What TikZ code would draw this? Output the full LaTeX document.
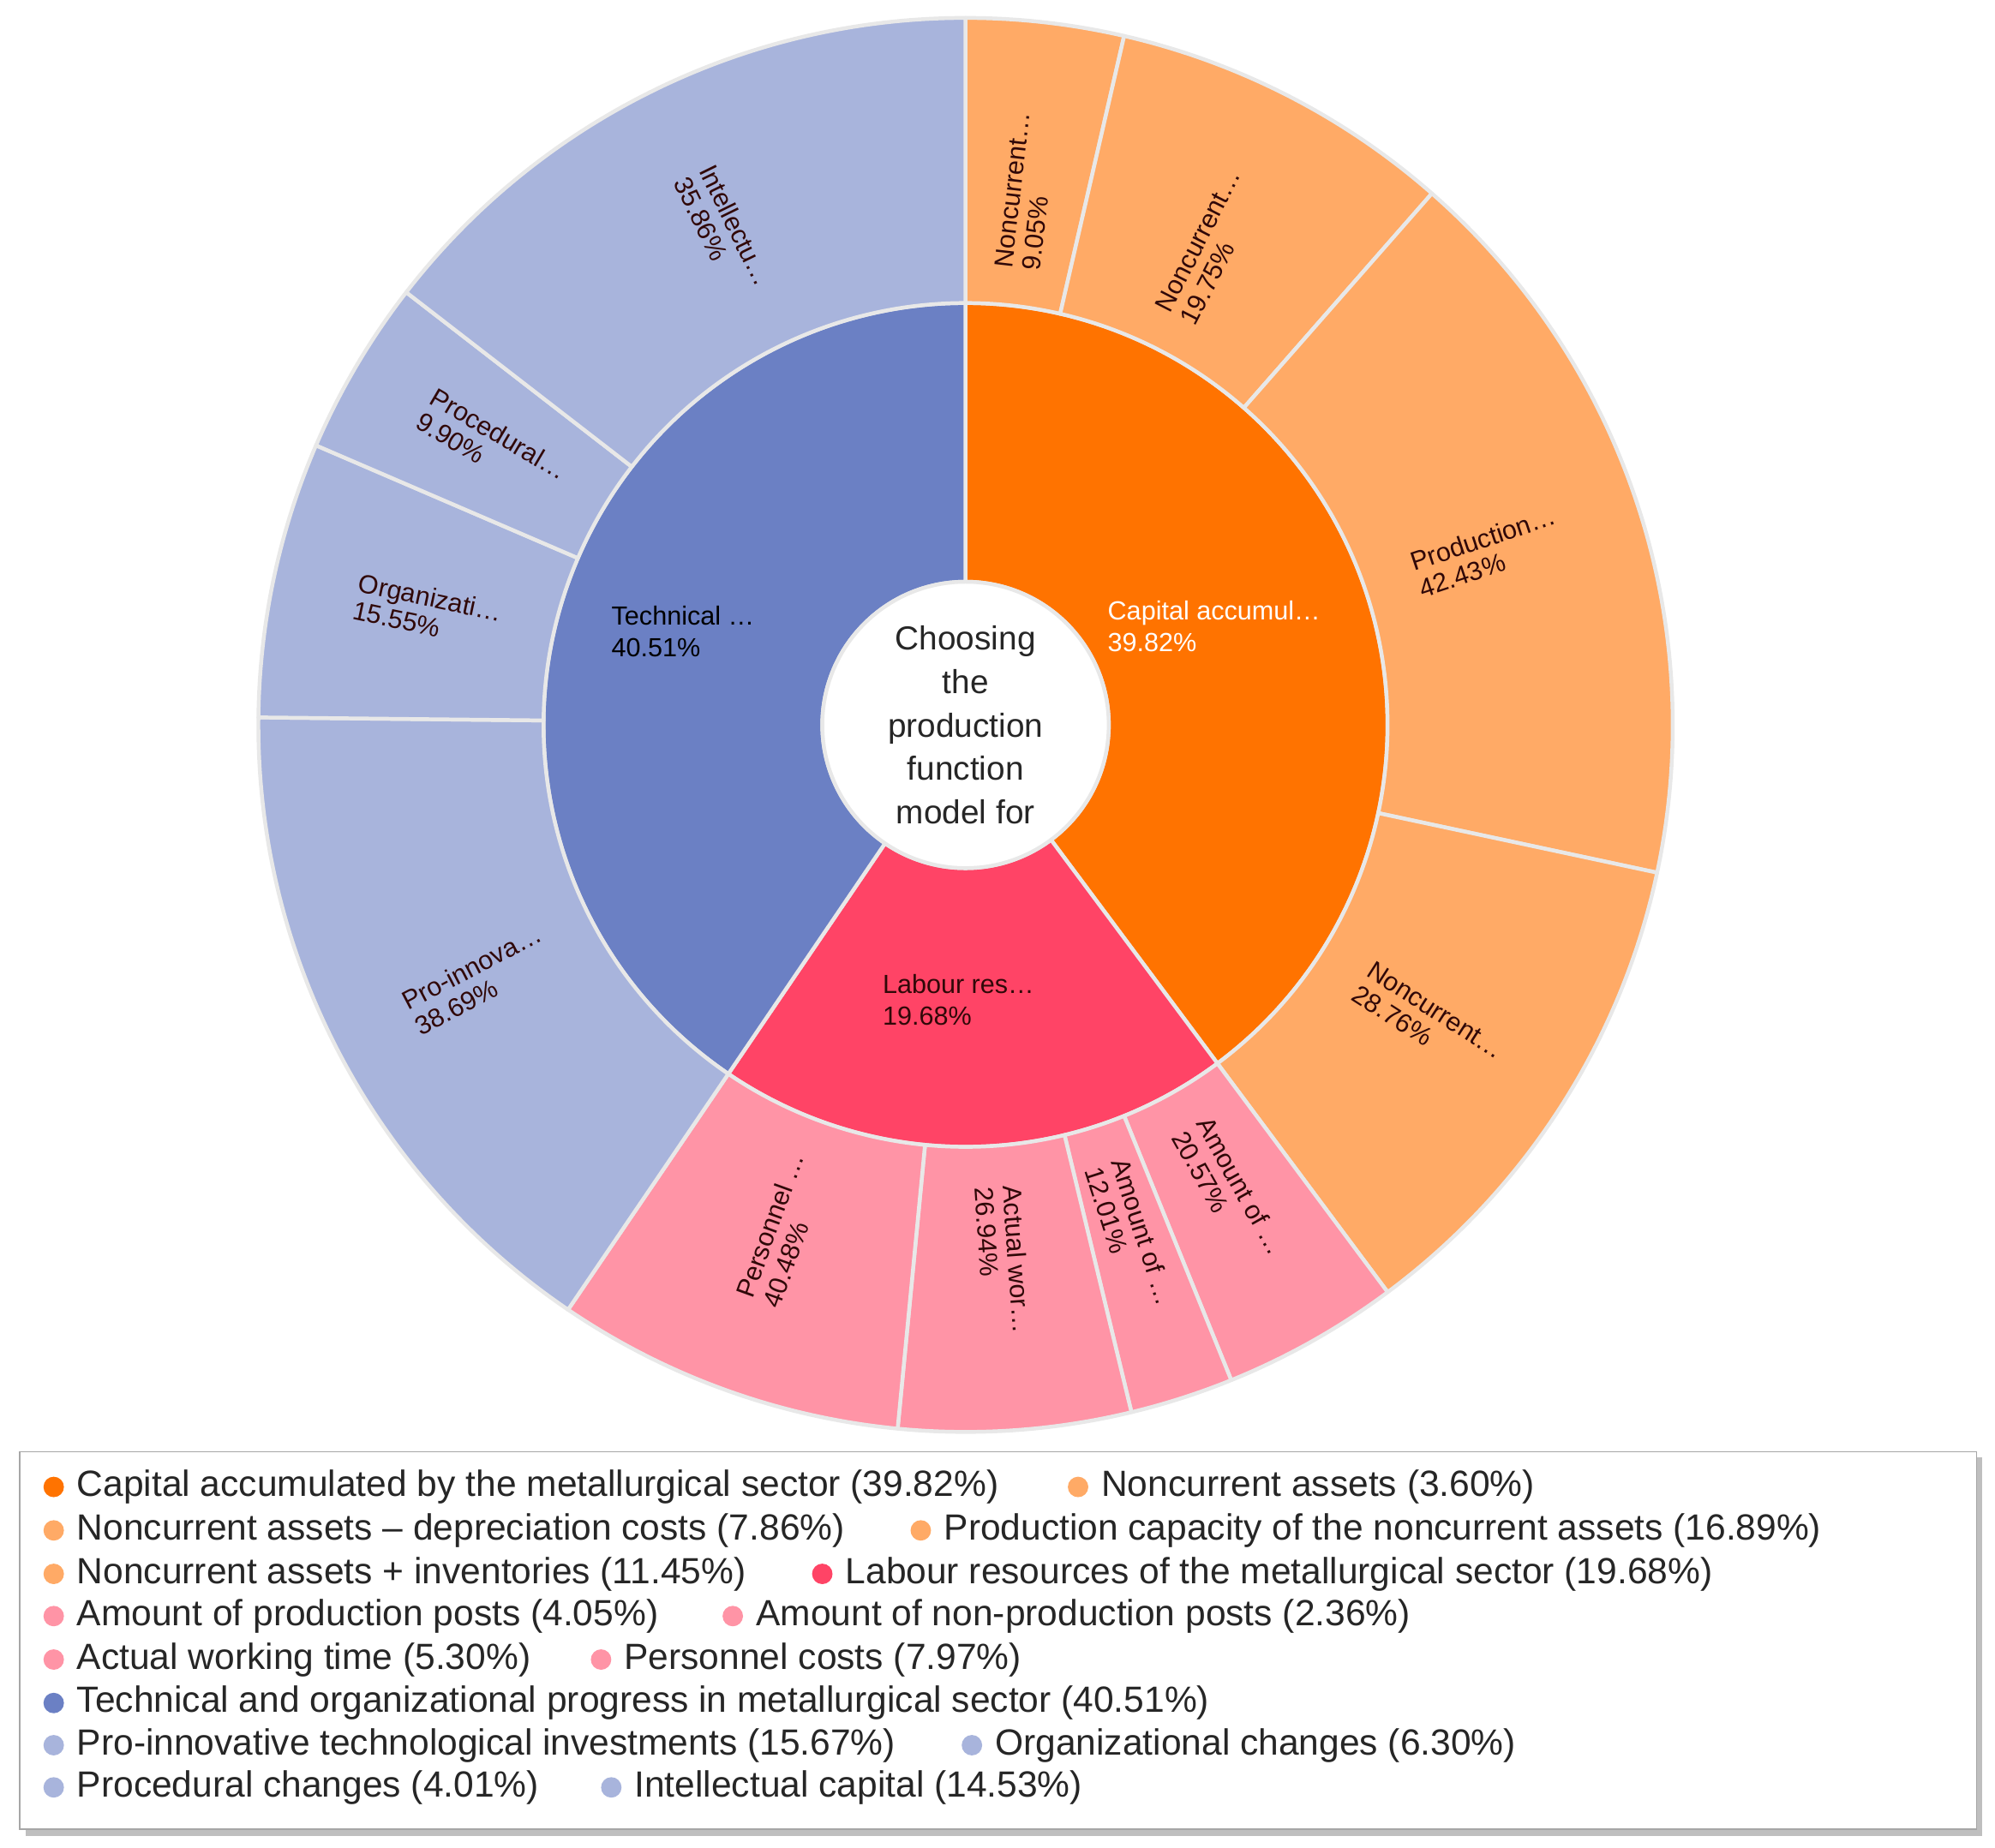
\documentclass[tikz,border=0pt]{standalone}
\usepackage{fontspec}
\setmainfont{Liberation Sans}
\definecolor{capD}{HTML}{FF7300}
\definecolor{capL}{HTML}{FFAA66}
\definecolor{labD}{HTML}{FF4466}
\definecolor{labL}{HTML}{FF94A6}
\definecolor{tecD}{HTML}{6B80C4}
\definecolor{tecL}{HTML}{A8B4DC}
\definecolor{sep}{HTML}{E8E8E8}
\definecolor{lab}{HTML}{300808}
\begin{document}
\begin{tikzpicture}[x=1pt,y=1pt,
  seg/.style={draw=sep,line width=3pt,line join=round},
  olab/.style={font=\fontsize{20.5}{22}\selectfont,align=left,text=lab,inner sep=0pt},
  mlab/.style={font=\fontsize{20.5}{25}\selectfont,align=left,anchor=west,inner sep=0pt},
  leg/.style={font=\fontsize{28.5}{30}\selectfont,anchor=west,inner sep=0pt,text=black!85},
  dot/.style={circle,inner sep=0pt,minimum size=16pt}]
\useasboundingbox (0,0) rectangle (1560,-1445);
\coordinate (C) at (755,-567);
\newcommand{\myWedge}[5]{\path[seg,fill=#1] ([shift={(#2:#5)}]C) arc[start angle=#2,end angle=#3,radius=#5] -- ([shift={(#3:#4)}]C) arc[start angle=#3,end angle=#2,radius=#4] -- cycle;}
% middle ring
\myWedge{capD}{90}{-53.35}{112}{330}
\myWedge{labD}{-53.35}{-124.2}{112}{330}
\myWedge{tecD}{-124.2}{-270}{112}{330}
% outer ring
\myWedge{capL}{90}{77.04}{330}{553}
\myWedge{capL}{77.04}{48.74}{330}{553}
\myWedge{capL}{48.74}{-12.06}{330}{553}
\myWedge{capL}{-12.06}{-53.35}{330}{553}
\myWedge{labL}{-53.35}{-67.93}{330}{553}
\myWedge{labL}{-67.93}{-76.43}{330}{553}
\myWedge{labL}{-76.43}{-95.51}{330}{553}
\myWedge{labL}{-95.51}{-124.2}{330}{553}
\myWedge{tecL}{-124.2}{-180.61}{330}{553}
\myWedge{tecL}{-180.61}{-203.29}{330}{553}
\myWedge{tecL}{-203.29}{-217.73}{330}{553}
\myWedge{tecL}{-217.73}{-270}{330}{553}
% center
\node[circle,fill=white,draw=sep,line width=3pt,minimum size=224pt,inner sep=0pt] (ctr) at (C) {};
\node[font=\fontsize{26}{34}\selectfont,align=center,text=black!85] (ct) at (C) {Choosing\\the\\production\\function\\model for};
% outer labels
\node[olab,rotate=83.52] (l1) at ([shift={(83.52:420)}]C) {Noncurrent…\\9.05\%};
\node[olab,rotate=62.89] (l2) at ([shift={(62.89:420)}]C) {Noncurrent…\\19.75\%};
\node[olab,rotate=18.34] (l3) at ([shift={(18.34:430)}]C) {Production…\\42.43\%};
\node[olab,rotate=-32.7] (l4) at ([shift={(-32.7:430)}]C) {Noncurrent…\\28.76\%};
\node[olab,rotate=-60.64] (l5) at ([shift={(-60.64:420)}]C) {Amount of …\\20.57\%};
\node[olab,rotate=-72.18] (l6) at ([shift={(-72.18:420)}]C) {Amount of …\\12.01\%};
\node[olab,rotate=-85.97] (l7) at ([shift={(-85.97:420)}]C) {Actual wor…\\26.94\%};
\node[olab,rotate=70.14] (l8) at ([shift={(-109.86:420)}]C) {Personnel …\\40.48\%};
\node[olab,rotate=27.6] (l9) at ([shift={(-152.4:430)}]C) {Pro-innova…\\38.69\%};
\node[olab,rotate=-11.95] (l10) at ([shift={(-191.95:430)}]C) {Organizati…\\15.55\%};
\node[olab,rotate=-30.5] (l11) at ([shift={(-210.5:430)}]C) {Procedural…\\9.90\%};
\node[olab,rotate=-63.86] (l12) at ([shift={(-243.86:430)}]C) {Intellectu…\\35.86\%};
% middle labels
\node[mlab,text=white] (m1) at (866,-490) {Capital accumul…\\39.82\%};
\node[mlab,text=lab] (m2) at (690,-782) {Labour res…\\19.68\%};
\node[mlab,text=black] (m3) at (478,-494) {Technical …\\40.51\%};
% legend
\fill[black!25] (20,-1140) rectangle (1550,-1436);
\node[draw=black!35,fill=white,line width=1pt,minimum width=1530pt,minimum height=295pt,anchor=north west,inner sep=0pt] (box) at (15,-1135) {};
\newcommand{\li}[5]{\node[dot,fill=#3] (d#5) at (#1,-#2) {}; \node[leg] (t#5) at (#1+18,-#2) {#4};}
\li{42}{1163}{capD}{Capital accumulated by the metallurgical sector (39.82\%)}{a}
\li{843}{1163}{capL}{Noncurrent assets (3.60\%)}{b}
\li{42}{1197}{capL}{Noncurrent assets – depreciation costs (7.86\%)}{c}
\li{720}{1197}{capL}{Production capacity of the noncurrent assets (16.89\%)}{d}
\li{42}{1231}{capL}{Noncurrent assets + inventories (11.45\%)}{e}
\li{643}{1231}{labD}{Labour resources of the metallurgical sector (19.68\%)}{f}
\li{42}{1264}{labL}{Amount of production posts (4.05\%)}{g}
\li{573}{1264}{labL}{Amount of non-production posts (2.36\%)}{h}
\li{42}{1298}{labL}{Actual working time (5.30\%)}{i}
\li{470}{1298}{labL}{Personnel costs (7.97\%)}{j}
\li{42}{1332}{tecD}{Technical and organizational progress in metallurgical sector (40.51\%)}{k}
\li{42}{1365}{tecL}{Pro-innovative technological investments (15.67\%)}{l}
\li{760}{1365}{tecL}{Organizational changes (6.30\%)}{m}
\li{42}{1398}{tecL}{Procedural changes (4.01\%)}{n}
\li{478}{1398}{tecL}{Intellectual capital (14.53\%)}{o}
\end{tikzpicture}
\end{document}
